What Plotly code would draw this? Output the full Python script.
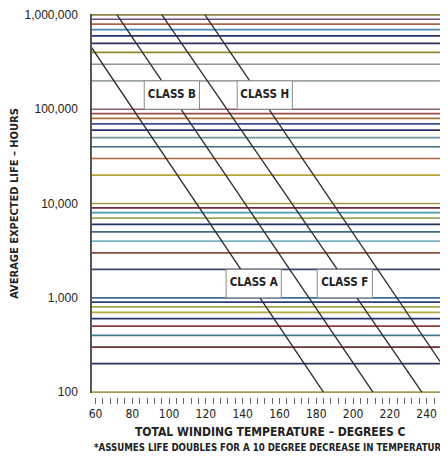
import plotly.graph_objects as go

# ---------------- data ----------------
class_names = ["CLASS A", "CLASS B", "CLASS F", "CLASS H"]
# temperature (deg C) where each life line reaches 1,000,000 h and 100 h
temp_at_1e6_hours = [45.9, 71.7, 96.1, 119.5]
temp_at_100_hours = [183.9, 210.8, 237.4, 258.6]
line_hours = [1_000_000, 100]

# label boxes
box_left_temp = [131.0, 86.5, 180.5, 137.0]
box_right_temp = [161.0, 116.5, 210.5, 167.0]
box_low_hours = [1000, 100000, 1000, 100000]
box_high_hours = [2000, 200000, 2000, 200000]

# horizontal reference lines (log grid)
grid_mantissas = [1, 2, 3, 4, 5, 6, 7, 8, 9]
grid_decades = [100, 1000, 10000, 100000]
grid_values = [m * d for d in grid_decades for m in grid_mantissas] + [1_000_000]
grid_colors = [
    "#a89c55", "#2b3264", "#6e3232", "#3f7b8c", "#8c3c3c", "#2b3068", "#b3a544", "#a3a34a", "#2d3c7c",
    "#3d6f8f", "#3a4a6c", "#8c4d3c", "#7cb3c3", "#3d6d7c", "#2b305c", "#a3a362", "#4c9cab", "#6c2c3c",
    "#a39c44", "#b3a334", "#b3633c", "#3c6c7c", "#7393a3", "#2b306c", "#3c4c8c", "#a3733c", "#9c4c44",
    "#8c5c74", "#9ca3a3", "#8c9696", "#938933", "#30305c", "#2b306c", "#4c8ab3", "#b3634c", "#6c4c8c",
    "#8c8344",
]

y_tick_vals = [100, 1000, 10000, 100000, 1000000]
y_tick_text = ["100", "1,000", "10,000", "100,000", "1,000,000"]
x_tick_vals = list(range(60, 252, 4))
x_tick_text = [str(v) if v % 20 == 0 else "" for v in x_tick_vals]

x_title = "TOTAL WINDING TEMPERATURE \u2013 DEGREES C"
y_title = "AVERAGE EXPECTED LIFE \u2013 HOURS"
footnote = "*ASSUMES LIFE DOUBLES FOR A 10 DEGREE DECREASE IN TEMPERATURE"

# ---------------- figure ----------------
NARROW = "Liberation Sans Narrow, DejaVu Sans Condensed, Arial Narrow, sans-serif"
REG = "Liberation Sans, Arial, sans-serif"
X_MIN, X_MAX = 58.1, 251.6

fig = go.Figure()

for v, c in zip(grid_values, grid_colors):
    fig.add_trace(go.Scatter(x=[X_MIN - 10, X_MAX + 10], y=[v, v], mode="lines",
                             line=dict(color=c, width=1.7), hoverinfo="skip", showlegend=False))

for name, t_top, t_bot in zip(class_names, temp_at_1e6_hours, temp_at_100_hours):
    fig.add_trace(go.Scatter(x=[t_top, t_bot], y=line_hours, mode="lines",
                             line=dict(color="#2a2a2a", width=1.3), name=name, showlegend=False))

for name, x0, x1, y0, y1 in zip(class_names, box_left_temp, box_right_temp, box_low_hours, box_high_hours):
    fig.add_trace(go.Scatter(x=[x0, x1, x1, x0, x0], y=[y0, y0, y1, y1, y0], mode="lines",
                             fill="toself", fillcolor="white",
                             line=dict(color="#8a8a8a", width=1), hoverinfo="skip", showlegend=False))
    fig.add_trace(go.Scatter(x=[(x0 + x1) / 2], y=[(y0 * y1) ** 0.5], mode="text", text=[name],
                             textfont=dict(family=NARROW, size=11.5, color="#222", weight="bold"),
                             hoverinfo="skip", showlegend=False))

# page body adds an 8px offset; size the figure so it ends at the window edge
fig.update_layout(
    width=440, height=449,
    margin=dict(l=84, r=0, t=4, b=60),
    paper_bgcolor="white", plot_bgcolor="white",
    xaxis=dict(range=[X_MIN, X_MAX], anchor="free", position=0,
               tickvals=x_tick_vals, ticktext=x_tick_text,
               ticks="outside", ticklen=6, tickwidth=1, tickcolor="#666",
               showgrid=False, zeroline=False, showline=False,
               ticklabeloverflow="allow",
               tickfont=dict(family=NARROW, size=12, color="#222")),
    yaxis=dict(type="log", range=[1.99, 6.01], domain=[0.0104, 1],
               tickvals=y_tick_vals, ticktext=y_tick_text,
               ticks="", ticklabelstandoff=10, ticklabeloverflow="allow",
               showgrid=False, zeroline=False,
               showline=True, linecolor="#555", linewidth=1.5,
               tickfont=dict(family=REG, size=12, color="#222"),
               title=dict(text=y_title, standoff=6,
                          font=dict(family=NARROW, size=11, color="#222", weight="bold"))),
    annotations=[
        dict(text=x_title, xref="paper", yref="paper", x=0.5, y=-0.091,
             xanchor="center", yanchor="middle", showarrow=False,
             font=dict(family=NARROW, size=12, color="#222", weight="bold")),
        dict(text=footnote, xref="paper", yref="paper", x=0.0, y=-0.133,
             xanchor="left", yanchor="middle", showarrow=False,
             font=dict(family=NARROW, size=9.6, color="#222", weight="bold")),
    ],
)

fig.write_html("out.html")
